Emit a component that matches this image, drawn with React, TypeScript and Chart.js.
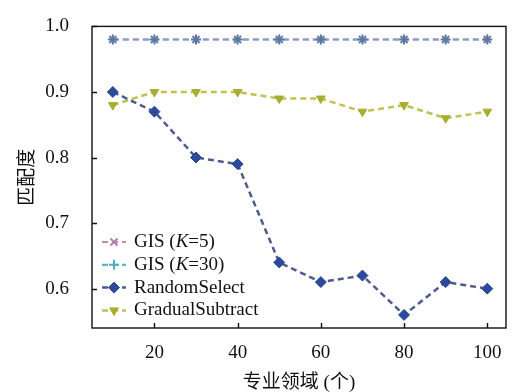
import React, { useEffect, useRef } from 'react';
import { Chart, registerables } from 'chart.js';
import { drawPoint } from 'chart.js/helpers';

Chart.register(...registerables);

const domains = [10, 20, 30, 40, 50, 60, 70, 80, 90, 100];
const gisK5 = [0.98, 0.98, 0.98, 0.98, 0.98, 0.98, 0.98, 0.98, 0.98, 0.98];
const gisK30 = [0.98, 0.98, 0.98, 0.98, 0.98, 0.98, 0.98, 0.98, 0.98, 0.98];
const randomSelect = [0.9, 0.87, 0.8, 0.79, 0.64, 0.61, 0.62, 0.56, 0.61, 0.6];
const gradualSubtract = [0.88, 0.9, 0.9, 0.9, 0.89, 0.89, 0.87, 0.88, 0.86, 0.87];
const xTicks = [20, 40, 60, 80, 100];
const yTicks = [0.6, 0.7, 0.8, 0.9, 1.0];
const legendParts: [string, boolean][][] = [
  [['GIS (', false], ['K', true], ['=5)', false]],
  [['GIS (', false], ['K', true], ['=30)', false]],
  [['RandomSelect', false]],
  [['GradualSubtract', false]],
];
const xTitle = '专业领域 (个)';
const yTitle = '匹配度';

const FONT = '"Liberation Serif", "Times New Roman", "Noto Sans CJK SC", serif';

const toPts = (ys: number[]) => domains.map((x, i) => ({ x, y: ys[i] }));

export default function App() {
  const ref = useRef<HTMLCanvasElement>(null);
  useEffect(() => {
    const canvas = ref.current!;
    const framePlugin = {
      id: 'frame',
      afterDatasetsDraw(chart: any) {
        const { ctx, chartArea: a, scales } = chart;
        ctx.save();
        ctx.strokeStyle = '#111';
        ctx.lineWidth = 1.4;
        ctx.setLineDash([]);
        ctx.strokeRect(a.left, a.top, a.right - a.left, a.bottom - a.top);
        ctx.beginPath();
        xTicks.forEach((v) => {
          const px = Math.round(scales.x.getPixelForValue(v)) + 0.5;
          ctx.moveTo(px, a.bottom);
          ctx.lineTo(px, a.bottom - 5);
        });
        yTicks.forEach((v) => {
          const py = Math.round(scales.y.getPixelForValue(v)) + 0.5;
          ctx.moveTo(a.left, py);
          ctx.lineTo(a.left + 5, py);
        });
        ctx.stroke();

        // legend
        const ds = chart.data.datasets;
        const x0 = a.left + 10;
        const y0 = a.bottom - 86;
        ctx.textBaseline = 'middle';
        ds.forEach((d: any, i: number) => {
          const y = y0 + i * 22.8;
          ctx.save();
          ctx.strokeStyle = d.legendColor || d.borderColor;
          ctx.lineWidth = d.borderWidth;
          ctx.setLineDash(d.borderDash);
          ctx.beginPath();
          ctx.moveTo(x0, y);
          ctx.lineTo(x0 + 24, y);
          ctx.stroke();
          ctx.setLineDash([]);
          const pc = d.legendPointColor || d.pointBackgroundColor;
          ctx.fillStyle = pc;
          ctx.strokeStyle = pc;
          ctx.lineWidth = d.pointBorderWidth;
          drawPoint(ctx, { pointStyle: d.pointStyle, rotation: d.pointRotation || 0, radius: d.pointRadius, borderWidth: d.pointBorderWidth }, x0 + 12, y);
          ctx.restore();
          let tx = x0 + 32;
          ctx.fillStyle = '#111';
          legendParts[i].forEach(([t, it]) => {
            ctx.font = `${it ? 'italic ' : ''}19px ${FONT}`;
            ctx.fillText(t, tx, y);
            tx += ctx.measureText(t).width;
          });
        });
        ctx.restore();
      },
    };

    const chart = new Chart(canvas, {
      type: 'scatter',
      data: {
        datasets: [
          {
            label: 'GIS (K=5)',
            data: toPts(gisK5),
            order: 1,
            showLine: true,
            borderColor: '#c48bbd',
            legendColor: '#c48bbd',
            borderWidth: 2,
            borderDash: [6, 4],
            pointStyle: 'crossRot',
            pointRadius: 5,
            pointBorderWidth: 2,
            pointBackgroundColor: '#6f78a8',
            pointBorderColor: '#6f78a8',
            legendPointColor: '#b57fb0',
          },
          {
            label: 'GIS (K=30)',
            data: toPts(gisK30),
            order: 0,
            showLine: true,
            borderColor: '#7c9fc8',
            legendColor: '#5fb6c2',
            borderWidth: 2.2,
            borderDash: [6, 4],
            pointStyle: 'cross',
            pointRadius: 5,
            pointBorderWidth: 2,
            pointBackgroundColor: '#55799f',
            pointBorderColor: '#55799f',
            legendPointColor: '#4fb0c0',
          },
          {
            label: 'RandomSelect',
            data: toPts(randomSelect),
            order: 2,
            showLine: true,
            borderColor: '#4f5a8f',
            borderWidth: 2.5,
            borderDash: [6, 4],
            pointStyle: 'rectRot',
            pointRadius: 5.5,
            pointBorderWidth: 1,
            pointBackgroundColor: '#2d4a9a',
            pointBorderColor: '#2d4a9a',
          },
          {
            label: 'GradualSubtract',
            data: toPts(gradualSubtract),
            order: 3,
            showLine: true,
            borderColor: '#bfc24f',
            borderWidth: 2.5,
            borderDash: [6, 4],
            pointStyle: 'triangle',
            pointRotation: 180,
            pointRadius: 5,
            pointBorderWidth: 1,
            pointBackgroundColor: '#a9ad2e',
            pointBorderColor: '#a9ad2e',
          },
        ] as any,
      },
      options: {
        animation: false,
        responsive: true,
        maintainAspectRatio: false,
        layout: { padding: { top: 19, right: 5, bottom: 0, left: 0 } },
        plugins: { legend: { display: false }, tooltip: { enabled: false } },
        scales: {
          x: {
            type: 'linear',
            min: 5,
            max: 104.5,
            grid: { display: false },
            border: { display: false },
            afterBuildTicks: (s: any) => {
              s.ticks = xTicks.map((v) => ({ value: v }));
            },
            afterFit: (s: any) => {
              s.height = 64;
            },
            ticks: {
              padding: 6,
              color: '#111',
              font: { family: FONT, size: 19 },
              callback: (v: any) => String(v),
              maxRotation: 0,
            },
            title: {
              display: true,
              text: xTitle,
              color: '#111',
              font: { family: FONT, size: 19 },
              padding: { top: 0, bottom: -2 },
            },
          },
          y: {
            type: 'linear',
            min: 0.54,
            max: 1.0,
            grid: { display: false },
            border: { display: false },
            afterBuildTicks: (s: any) => {
              s.ticks = yTicks.map((v) => ({ value: v }));
            },
            afterFit: (s: any) => {
              s.width = 92;
            },
            ticks: {
              padding: 15,
              color: '#111',
              font: { family: FONT, size: 19 },
              callback: (v: any) => Number(v).toFixed(1),
            },
            title: {
              display: true,
              text: yTitle,
              color: '#111',
              font: { family: FONT, size: 19 },
              padding: { top: 17, bottom: 0 },
            },
          },
        },
      } as any,
      plugins: [framePlugin],
    });
    return () => chart.destroy();
  }, []);

  return (
    <div style={{ position: 'fixed', left: 0, top: 0, width: 513, height: 392, background: '#fff' }}>
      <canvas ref={ref} />
    </div>
  );
}
